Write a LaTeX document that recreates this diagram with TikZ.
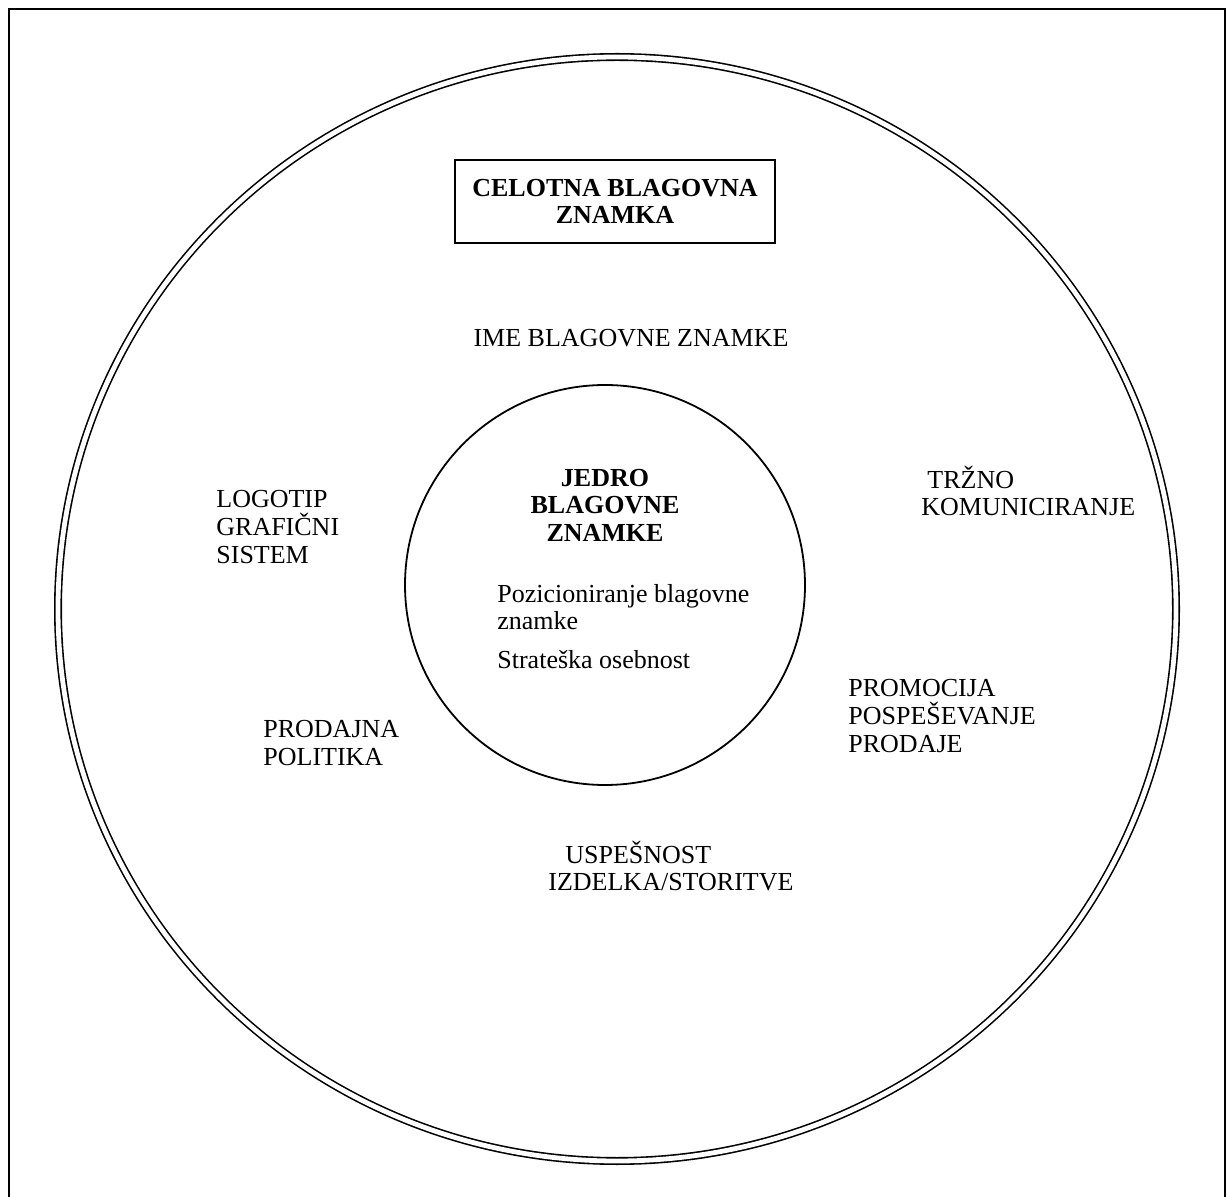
\documentclass[tikz,border=0pt]{standalone}
\usepackage{fontspec}
\setmainfont{Liberation Serif}
\usepackage{tikz}
\usetikzlibrary{positioning,shapes}

\tikzset{
	lbl/.style={inner sep=0pt, font=\fontsize{13}{13.8}\selectfont},
	lblL/.style={lbl, align=left, anchor=west},
	lblB/.style={lbl, align=center, font=\fontsize{13}{13.8}\selectfont\bfseries}
}

\begin{document}
\begin{tikzpicture}[x=0.5pt, y=-0.5pt]
			\useasboundingbox (0,0) rectangle (1227,1197);
			\clip (0,0) rectangle (1227,1197);
			\draw[line width=1.2pt] (9,1210) -- (9,9) -- (1225,9) -- (1225,1210);
			% outer ring and core
			\draw[double, double distance=2.4pt, line width=0.8pt] (617,609) ellipse (559 and 552);
			\draw[line width=0.9pt] (605,585) circle (200);
			\node[draw, line width=0.9pt, minimum width=160pt, minimum height=41.5pt] (celotna) at (615,201.5) {};
			\node[lblB] (celotnaT) at (celotna.center) {CELOTNA BLAGOVNA\\ZNAMKA};
			\node[lbl] (ime) at (631,338) {IME BLAGOVNE ZNAMKE};
			\node[lblB] (jedro) at (605,505) {JEDRO\\BLAGOVNE\\ZNAMKE};
			\node[lblL] (pozic) at (497,607) {Pozicioniranje blagovne\\znamke};
			\node[lblL] (strat) at (497,660) {Strateška osebnost};
			\node[lblL] (logo) at (216,527) {LOGOTIP\\GRAFIČNI\\SISTEM};
			\node[lblL] (trzno) at (921,491) {\hspace{3pt}TRŽNO\\KOMUNICIRANJE};
			\node[lblL] (promo) at (848,716) {PROMOCIJA\\POSPEŠEVANJE\\PRODAJE};
			\node[lblL] (prodaj) at (263,743) {PRODAJNA\\POLITIKA};
			\node[lblL] (uspes) at (548,866) {\hspace{8.5pt}USPEŠNOST\\IZDELKA/STORITVE};
		\end{tikzpicture}
\end{document}
